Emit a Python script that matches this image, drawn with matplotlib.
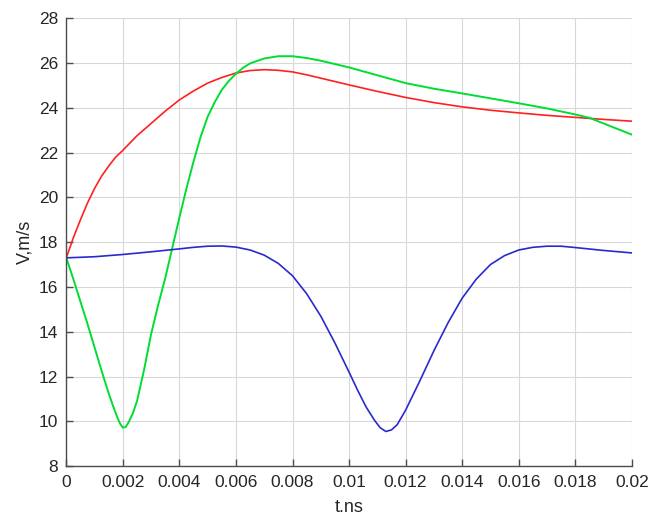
import matplotlib
matplotlib.use("Agg")
import matplotlib.pyplot as plt

plt.rcParams['font.family'] = ['Liberation Sans', 'DejaVu Sans']

# time, ns
t_red = [0, 0.00025, 0.0005, 0.00075, 0.001, 0.00125, 0.0015, 0.00175, 0.002,
         0.0025, 0.003, 0.0035, 0.004, 0.0045, 0.005, 0.0055, 0.006, 0.0065,
         0.007, 0.0075, 0.008, 0.0085, 0.009, 0.0095, 0.010, 0.011, 0.012,
         0.013, 0.014, 0.015, 0.016, 0.017, 0.018, 0.019, 0.020]
v_red = [17.3, 18.2, 19.0, 19.75, 20.4, 20.95, 21.4, 21.8, 22.1,
         22.75, 23.3, 23.85, 24.35, 24.75, 25.1, 25.35, 25.55, 25.66,
         25.7, 25.67, 25.6, 25.47, 25.32, 25.17, 25.02, 24.73, 24.46,
         24.23, 24.04, 23.89, 23.77, 23.66, 23.57, 23.48, 23.4]

t_green = [0, 0.00025, 0.0005, 0.00075, 0.001, 0.00125, 0.0015, 0.00165, 0.0018,
           0.0019, 0.002, 0.0021, 0.0022, 0.00235, 0.0025, 0.00275, 0.003,
           0.00325, 0.0035, 0.00375, 0.004, 0.00425, 0.0045, 0.00475, 0.005,
           0.00525, 0.0055, 0.00575, 0.006, 0.00625, 0.0065, 0.007, 0.0075,
           0.008, 0.0085, 0.009, 0.0095, 0.010, 0.011, 0.012, 0.013, 0.014,
           0.015, 0.016, 0.017, 0.018, 0.0185, 0.019, 0.0195, 0.020]
v_green = [17.3, 16.35, 15.35, 14.35, 13.3, 12.25, 11.25, 10.7, 10.2,
           9.9, 9.72, 9.75, 9.95, 10.35, 10.9, 12.3, 13.9,
           15.2, 16.4, 17.75, 19.1, 20.4, 21.6, 22.7, 23.6,
           24.25, 24.8, 25.2, 25.52, 25.78, 25.98, 26.2, 26.3,
           26.3, 26.22, 26.1, 25.95, 25.8, 25.45, 25.1, 24.85, 24.64,
           24.42, 24.2, 23.97, 23.7, 23.55, 23.3, 23.05, 22.8]

t_blue = [0, 0.001, 0.002, 0.003, 0.004, 0.0045, 0.005, 0.0055, 0.006, 0.0065,
          0.007, 0.0075, 0.008, 0.0085, 0.009, 0.0095, 0.010, 0.0103, 0.0106,
          0.0109, 0.0111, 0.0113, 0.0115, 0.0117, 0.012, 0.0125, 0.013,
          0.0135, 0.014, 0.0145, 0.015, 0.0155, 0.016, 0.0165, 0.017, 0.0175,
          0.018, 0.019, 0.020]
v_blue = [17.3, 17.35, 17.45, 17.57, 17.7, 17.77, 17.82, 17.83, 17.78, 17.65,
          17.42, 17.05, 16.5, 15.7, 14.7, 13.5, 12.2, 11.4, 10.65,
          10.05, 9.72, 9.55, 9.62, 9.85, 10.5, 11.8, 13.15,
          14.4, 15.5, 16.35, 17.0, 17.4, 17.65, 17.77, 17.82, 17.82,
          17.76, 17.63, 17.52]

xticks = [0, 0.002, 0.004, 0.006, 0.008, 0.01, 0.012, 0.014, 0.016, 0.018, 0.02]
xticklabels = ['0', '0.002', '0.004', '0.006', '0.008', '0.01', '0.012',
               '0.014', '0.016', '0.018', '0.02']
yticks = [8, 10, 12, 14, 16, 18, 20, 22, 24, 26, 28]

fig = plt.figure(figsize=(6.5, 5.18), dpi=100)
ax = fig.add_axes([0.102, 0.1, 0.870, 0.865])

ax.plot(t_red, v_red, color='#ff2020', lw=1.2, solid_joinstyle='round')
ax.plot(t_green, v_green, color='#00dd33', lw=1.4, solid_joinstyle='round')
ax.plot(t_blue, v_blue, color='#2a2acc', lw=1.2, solid_joinstyle='round')

ax.set_xlim(0, 0.02)
ax.set_ylim(8, 28)
ax.set_xticks(xticks)
ax.set_xticklabels(xticklabels)
ax.set_yticks(yticks)
ax.grid(True, color='#d8d8d8', lw=0.8)
ax.set_axisbelow(True)

for s in ['top', 'right']:
    ax.spines[s].set_visible(False)
for s in ['left', 'bottom']:
    ax.spines[s].set_color('#4d4d4d')
    ax.spines[s].set_linewidth(1.0)

ax.tick_params(direction='in', length=5, width=1, color='#4d4d4d',
               labelsize=12.5, labelcolor='#262626', pad=6)
ax.set_xlabel('t.ns', fontsize=13, color='#262626', labelpad=7)
ax.set_ylabel('V,m/s', fontsize=13, color='#262626', labelpad=4)

fig.savefig('out.png', dpi=100)
